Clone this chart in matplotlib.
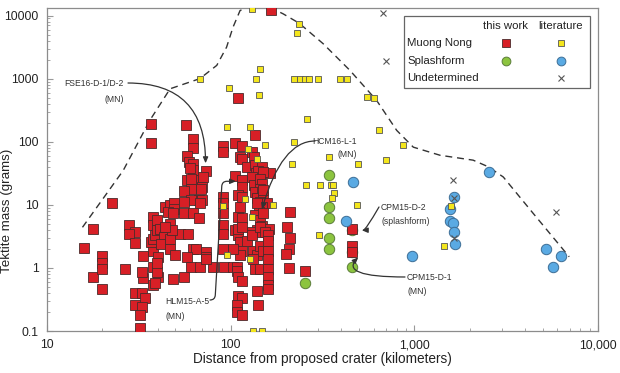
import matplotlib.pyplot as plt
from matplotlib.ticker import FixedLocator, LogLocator, NullFormatter
from matplotlib.patches import Rectangle

plt.rcParams['font.family'] = ['Liberation Sans', 'DejaVu Sans']

# distance (km), mass (g)
mn_this = [
    (165, 12300), (109, 490), (36.7, 193), (36.7, 95), (57, 182),
    (62, 112), (62, 80), (58, 60), (59, 48), (62, 45), (62, 35), (60, 38), (58, 24.5), (62, 24.5), (61, 18),
    (73, 34), (91, 85), (91, 69), (106, 95), (115, 84), (112, 57), (115, 53), (136, 129), (131, 69), (134, 57),
    (122, 40), (136, 42), (148, 40), (137, 32), (164, 32), (141, 34), (150, 33),
    (106, 29), (115, 24.5), (115, 19), (130, 27.6), (134, 20.4), (144, 26), (149, 21.7), (144, 18), (136, 16), (148, 16),
    (139, 12.6), (150, 13.3), (145, 11.1), (157, 10.5), (149, 9.3), (142, 7.7), (136, 6.8), (144, 5.7), (149, 4.6),
    (139, 4.0), (149, 3.7), (162, 4.2),
    (70, 19), (67, 12), (70, 12), (56, 16.6), (60.5, 11.8), (56, 7.3), (62, 7.3), (67, 6.1), (68, 10.5), (69, 18),
    (61, 26), (70.6, 27.6), (56, 11),
    (22.5, 10.7), (44, 9.4), (47, 9.9), (49, 10.5), (49, 8.5), (45.7, 7.7), (48.3, 7.3),
    (91, 13.3), (91, 10.5), (91, 7.3), (91, 4.8), (91, 3.45), (91, 2.0),
    (110, 14.1), (115, 13.3), (112.5, 9.3), (110, 6.45), (105, 4.0), (110, 3.3), (112.5, 2.6), (115, 1.85), (112.5, 1.6),
    (115, 6.1), (109, 4.2), (115, 4.5),
    (122, 2.7), (130, 3.7), (130, 3.3), (133, 1.85), (139, 1.6), (133, 1.4), (136, 0.95), (144, 0.95), (139, 0.43),
    (141, 0.26), (144, 2.2), (150, 1.85), (144, 4.45), (153, 3.7), (159, 3.3), (159, 2.7), (150, 7.3), (159, 1.85),
    (159, 1.4), (159, 0.95), (159, 0.72), (159, 0.53), (159, 0.46), (139, 10.5), (150, 17),
    (61, 1.04), (68, 1.04), (80, 1.04), (92, 1.04), (103, 1.04), (108, 1.04),
    (108, 0.88), (110, 0.72), (115, 0.62), (110, 0.36), (115, 0.33), (108, 0.26), (108, 0.20), (115, 0.18),
    (103, 2.0), (73, 1.8), (73, 1.5), (73, 1.37), (62, 2.0), (65, 2.0),
    (210, 7.7), (202, 4.5), (210, 3.0), (207, 2.0), (200, 1.65), (207, 1.0), (254, 0.9),
    (459, 4.2), (459, 2.2), (459, 1.8),
    (17.9, 4.2), (15.9, 2.1), (17.9, 0.72), (20, 1.55), (20, 1.2), (20, 0.95), (20, 0.47),
    (28, 4.75), (30, 3.7), (28, 3.45), (30, 2.5), (26.6, 0.95), (33.2, 1.55), (33.2, 0.69), (30, 0.40), (33, 0.40),
    (34.2, 0.33), (30, 0.26), (33, 0.24), (32.2, 0.18), (32.2, 0.11),
    (38, 6.45), (38, 4.75), (39.5, 5.7), (38, 1.85), (40.3, 1.5), (38, 1.04), (40.3, 0.72), (38, 0.53), (39.5, 0.86),
    (37, 2.6), (38, 2.9), (38.7, 3.3), (39.5, 4.0),
    (41.2, 4.2), (44.7, 4.0), (46.7, 5.0), (43.2, 3.1),
    (48.8, 0.66), (53, 3.45), (58.7, 3.45), (56, 0.72), (57.6, 1.5), (42, 2.4), (46.7, 2.9), (48, 4.0), (44, 4.45),
    (46.7, 2.0), (49.8, 1.6), (39.5, 1.18), (38.7, 0.57), (32.8, 0.86),
]
mn_lit = [
    (130, 12500), (236, 7400), (229, 5300), (144, 1410), (137, 1000), (68, 1000), (98, 708), (142, 550),
    (221, 1000), (240, 1000), (255, 1000), (268, 1000), (300, 1000), (393, 1000), (431, 1000),
    (550, 509), (602, 500), (259, 226), (641, 151), (863, 90), (343, 57), (491, 45), (698, 51), (217, 45),
    (222, 100), (96, 171), (127, 171), (154, 90), (139, 53), (125, 76),
    (257, 20.4), (306, 20.4), (350, 20.4), (361, 20.4), (366, 15.4), (355, 13), (489, 10), (303, 3.3),
    (91, 9.5), (119, 12.2), (130, 6.45), (170, 10), (95, 1.6), (127, 1.4), (133, 0.1), (149, 0.1),
    (1590, 9.6), (1455, 2.2),
]
sp_this = [(343, 30), (343, 9.3), (343, 6.1), (343, 3.0), (343, 2.0), (459, 4.0), (459, 1.8), (459, 1.04), (254, 0.57)]
sp_lit = [
    (464, 23), (425, 5.6), (975, 1.54), (2550, 33), (1640, 13.3), (1560, 8.5), (1570, 5.6), (1620, 5.1),
    (1650, 3.65), (1665, 2.4), (5190, 2.0), (6280, 1.54), (5660, 1.04),
]
undet = [(677, 11000), (698, 1870), (1630, 24.5), (5880, 7.7), (1640, 13), (1640, 3.0)]

# dashed envelope
env_dist = [15.6, 26, 36.3, 46.8, 68, 75.5, 84, 95, 103, 112.5, 122, 165, 193, 236, 319, 446, 623, 802, 987,
            1380, 2090, 2530, 3050, 4440, 6970]
env_mass = [4.4, 35, 218, 690, 1000, 1270, 1620, 3150, 6530, 12000, 13300, 13300, 10640, 7560, 3570, 1350, 452,
            151, 82, 61, 51, 40, 27.6, 7.3, 1.5]

red = '#d71f26'
yellow = '#f4e61c'
green = '#8cc43f'
blue = '#5aaae3'
tcol = '#222222'


def xy(pts):
    return [p[0] for p in pts], [p[1] for p in pts]


fig = plt.figure(figsize=(6.2, 3.73), dpi=100)
ax = fig.add_axes([47 / 620, 1 - 331 / 373, 551 / 620, 323.5 / 373])
ax.set_xscale('log')
ax.set_yscale('log')

ax.plot(env_dist, env_mass, ls=(0, (5, 3.5)), color='#333333', lw=1.0, zorder=1)

x, y = xy(sp_this)
ax.plot(x, y, 'o', ms=7.5, mfc=green, mec='#5b7d3a', mew=0.7, ls='none', zorder=2)
x, y = xy(mn_this)
ax.plot(x, y, 's', ms=6.6, mfc=red, mec='#4a2a2a', mew=0.6, ls='none', zorder=3)
x, y = xy(sp_lit)
ax.plot(x, y, 'o', ms=7.5, mfc=blue, mec='#3d6e96', mew=0.7, ls='none', zorder=4)
x, y = xy(mn_lit)
ax.plot(x, y, 's', ms=4.3, mfc=yellow, mec='#555555', mew=0.6, ls='none', zorder=5)
x, y = xy(undet)
ax.plot(x, y, 'x', ms=4.5, mec='#555555', mew=0.8, ls='none', zorder=6)

ax.set_xlim(10, 10000)
ax.set_ylim(0.1, 13400)

ax.xaxis.set_major_locator(FixedLocator([10, 100, 1000, 10000]))
ax.set_xticklabels(['10', '100', '1,000', '10,000'])
ax.yaxis.set_major_locator(FixedLocator([0.1, 1, 10, 100, 1000, 10000]))
ax.set_yticklabels(['0.1', '1', '10', '100', '1000', '10000'])
for a in (ax.xaxis, ax.yaxis):
    a.set_minor_locator(LogLocator(base=10, subs=range(2, 10), numticks=20))
    a.set_minor_formatter(NullFormatter())
ax.tick_params(which='both', direction='in', color='#999999', labelsize=8.8, labelcolor=tcol)
ax.tick_params(axis='x', pad=6)
ax.tick_params(axis='y', pad=6)
ax.tick_params(which='major', length=4)
ax.tick_params(which='minor', length=2.5)
for s in ax.spines.values():
    s.set_color('#8c8c8c')
    s.set_linewidth(0.9)

ax.set_xlabel('Distance from proposed crater (kilometers)', fontsize=9.8, color=tcol)
ax.xaxis.set_label_coords(0.5, -0.066)
ax.set_ylabel('Tektite mass (grams)', fontsize=9.6, color=tcol)
ax.yaxis.set_label_coords(-0.062, 0.37)

# annotations
acol = '#333333'
afs = 6.2
ax.text(124 / 620, 1 - 83 / 373, 'FSE16-D-1/D-2', transform=fig.transFigure, ha='right', va='center', fontsize=afs, color=acol)
ax.text(124 / 620, 1 - 99 / 373, '(MN)', transform=fig.transFigure, ha='right', va='center', fontsize=afs, color=acol)
ax.text(357 / 620, 1 - 141 / 373, 'HCM16-L-1', transform=fig.transFigure, ha='right', va='center', fontsize=afs, color=acol)
ax.text(357 / 620, 1 - 154 / 373, '(MN)', transform=fig.transFigure, ha='right', va='center', fontsize=afs, color=acol)
ax.text(165 / 620, 1 - 301.5 / 373, 'HLM15-A-5', transform=fig.transFigure, ha='left', va='center', fontsize=afs, color=acol)
ax.text(165 / 620, 1 - 316.5 / 373, '(MN)', transform=fig.transFigure, ha='left', va='center', fontsize=afs, color=acol)
ax.text(381 / 620, 1 - 207 / 373, 'CPM15-D-2', transform=fig.transFigure, ha='left', va='center', fontsize=afs, color=acol)
ax.text(381 / 620, 1 - 222 / 373, '(splashform)', transform=fig.transFigure, ha='left', va='center', fontsize=afs, color=acol)
ax.text(407 / 620, 1 - 278 / 373, 'CPM15-D-1', transform=fig.transFigure, ha='left', va='center', fontsize=afs, color=acol)
ax.text(407 / 620, 1 - 291 / 373, '(MN)', transform=fig.transFigure, ha='left', va='center', fontsize=afs, color=acol)

arrow = dict(arrowstyle='-|>,head_length=0.35,head_width=0.15', color=acol, lw=0.9, shrinkA=0, shrinkB=0)
ax.annotate('', xy=(73, 45.5), xytext=(128 / 620, 1 - 83 / 373), textcoords='figure fraction',
            arrowprops=dict(arrow, connectionstyle='angle3,angleA=0,angleB=90'))
ax.annotate('', xy=(148, 8.5), xytext=(315 / 620, 1 - 141 / 373), textcoords='figure fraction',
            arrowprops=dict(arrow, connectionstyle='angle3,angleA=0,angleB=74'))
ax.annotate('', xy=(107, 23.6), xytext=(210 / 620, 1 - 300 / 373), textcoords='figure fraction',
            arrowprops=dict(arrow, connectionstyle='arc,angleA=0,angleB=180,armA=5,armB=14,rad=5'))
ax.annotate('', xy=(517, 3.96), xytext=(379 / 620, 1 - 207 / 373), textcoords='figure fraction',
            arrowprops=dict(arrow, connectionstyle='angle3,angleA=60,angleB=0'))
ax.annotate('', xy=(495, 1.47), xytext=(405 / 620, 1 - 277 / 373), textcoords='figure fraction',
            arrowprops=dict(arrow, connectionstyle='angle3,angleA=0,angleB=45'))

# legend box
lx0, lx1, ly0, ly1 = (404 - 47) / 551, (590 - 47) / 551, (331 - 88) / 323.5, (331 - 16) / 323.5
ax.add_patch(Rectangle((lx0, ly0), lx1 - lx0, ly1 - ly0, transform=ax.transAxes, fc='white', ec='#666666', lw=0.9, zorder=10))
c1, c2 = (505.5 - 47) / 551, (560.5 - 47) / 551
rows = [(331 - 43.3) / 323.5, (331 - 61) / 323.5, (331 - 78.3) / 323.5]
lfs = 8.2
ax.text(c1, (331 - 26) / 323.5, 'this work', transform=ax.transAxes, ha='center', va='center', fontsize=lfs, color=tcol, zorder=11)
ax.text(c2, (331 - 26) / 323.5, 'literature', transform=ax.transAxes, ha='center', va='center', fontsize=lfs, color=tcol, zorder=11)
for r, lab in zip(rows, ['Muong Nong', 'Splashform', 'Undetermined']):
    ax.text(0.654, r, lab, transform=ax.transAxes, ha='left', va='center', fontsize=lfs, color=tcol, zorder=11)
ax.plot([c1], [rows[0]], 's', ms=5.2, mfc=red, mec='#4a2a2a', mew=0.6, transform=ax.transAxes, zorder=12, clip_on=False)
ax.plot([c2], [rows[0]], 's', ms=3.8, mfc=yellow, mec='#555555', mew=0.6, transform=ax.transAxes, zorder=12, clip_on=False)
ax.plot([c1], [rows[1]], 'o', ms=6.3, mfc=green, mec='#5b7d3a', mew=0.7, transform=ax.transAxes, zorder=12, clip_on=False)
ax.plot([c2], [rows[1]], 'o', ms=6.3, mfc=blue, mec='#3d6e96', mew=0.7, transform=ax.transAxes, zorder=12, clip_on=False)
ax.plot([c2], [rows[2]], 'x', ms=4, mec='#555555', mew=0.8, transform=ax.transAxes, zorder=12, clip_on=False)

fig.savefig('out.png', dpi=100)
